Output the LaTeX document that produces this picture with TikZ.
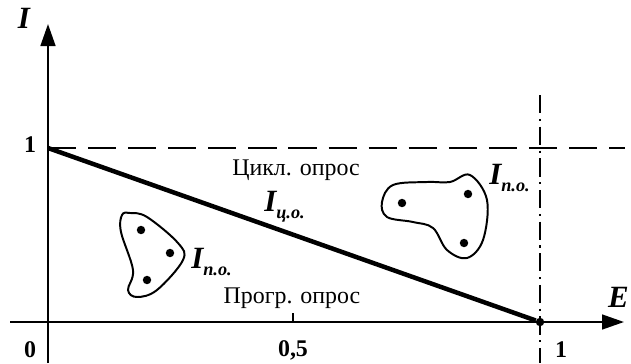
\documentclass[tikz,border=0pt]{standalone}
\usepackage{fontspec}
\setmainfont{Liberation Serif}
\usetikzlibrary{arrows.meta}
\begin{document}
\begin{tikzpicture}[x=0.025cm, y=-0.025cm,
        axis/.style={line width=1.5pt, -{Triangle[length=5.5mm, width=3.7mm]}},
        lbl/.style={font=\fontsize{17}{20}\selectfont},
        num/.style={font=\bfseries\fontsize{17}{20}\selectfont},
        cur/.style={font=\bfseries\itshape\fontsize{22}{24}\selectfont, inner sep=0pt},
        blob/.style={line width=1.4pt},
        pt/.style={circle, fill, inner sep=0pt, minimum size=6pt}]
        \useasboundingbox (0,0) rectangle (631,363);
        \coordinate (org) at (48,322);
        \coordinate (ytop) at (48,24);
        \coordinate (ybot) at (48,363);
        \coordinate (xleft) at (10,322);
        \coordinate (xright) at (624,322);
        \coordinate (one) at (48,148);
        \coordinate (lim) at (625,148);
        \coordinate (half) at (293,322);
        \coordinate (vtop) at (540,95);
        \coordinate (vbot) at (540,363);
        \node[pt] (e1) at (540,322) {};

        % axes
        \draw[axis] (ybot) -- (ytop);
        \draw[axis] (xleft) -- (xright);
        \draw[line width=1.5pt] (half) -- ++(0,-9);
        \draw[line width=1.1pt, dash pattern=on 20pt off 8.5pt] (one) -- (lim);
        \draw[line width=1.1pt, dash pattern=on 13pt off 4pt on 1.5pt off 4pt] (vtop) -- (vbot);
        \draw[line width=3.2pt] (one) -- (e1);

        % labels
        \node[cur] (ilbl) at (24,18) {I};
        \node[cur, anchor=east] (elbl) at (629,297) {E};
        \node[num] (n1) at (30,145) {1};
        \node[num] (n0) at (30,350) {0};
        \node[num] (nhalf) at (293,350) {0,5};
        \node[num] (ne1) at (561,350) {1};
        \node[lbl] (cyc) at (296,170) {Цикл. опрос};
        \node[lbl] (prog) at (292,298) {Прогр. опрос};
        \node[cur, anchor=west] (ico) at (264,207) {I\raisebox{-5pt}{\fontsize{13}{14}\selectfont ц.о.}};
        \node[cur, anchor=west] (ipo1) at (191,262) {I\raisebox{-5pt}{\fontsize{13}{14}\selectfont п.о.}};
        \node[cur, anchor=west] (ipo2) at (489,178) {I\raisebox{-5pt}{\fontsize{13}{14}\selectfont п.о.}};

        % left region
        \draw[blob] plot[smooth cycle, tension=0.6] coordinates {(130,213) (147,217) (178,243) (183,260) (157,290) (137,297) (128,290) (133,270) (121,232) (122,215)};
        \node[pt] (a1) at (141,230) {};
        \node[pt] (a2) at (170,253) {};
        \node[pt] (a3) at (147,280) {};

        % right region
        \draw[blob] plot[smooth cycle, tension=0.6] coordinates {(382,202) (393,185) (427,182) (450,182) (470,175) (487,200) (483,240) (467,258) (447,250) (433,228) (413,222) (387,217)};
        \node[pt] (b1) at (402,203) {};
        \node[pt] (b2) at (468,194) {};
        \node[pt] (b3) at (464,243) {};
    \end{tikzpicture}
\end{document}
